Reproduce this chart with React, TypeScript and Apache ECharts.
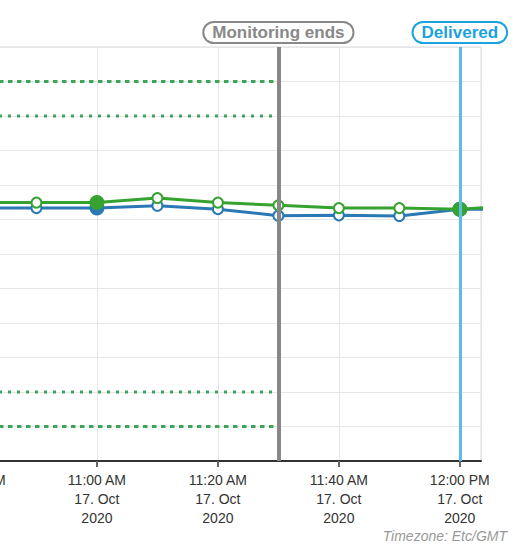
import React, { useEffect, useRef } from "react";
import * as echarts from "echarts";

// ---- data ----
const sampleTimes = ["10:40", "10:50", "11:00", "11:10", "11:20", "11:30", "11:40", "11:50", "12:00", "12:10"];
const sensorGreen = [7.49, 7.49, 7.49, 7.62, 7.49, 7.41, 7.33, 7.33, 7.3, 7.4];
const sensorBlue = [7.33, 7.33, 7.33, 7.4, 7.3, 7.11, 7.12, 7.1, 7.3, 7.3];
const markerKinds = ["none", "hollow", "filled", "hollow", "hollow", "hollow", "hollow", "hollow", "filled", "none"];

const upperLimit = 11;
const upperWarning = 10;
const lowerWarning = 2;
const lowerLimit = 1;
const thresholdStart = "10:20";
const monitoringEnds = "11:30";
const delivered = "12:00";

const axisMin = "10:20";
const axisMax = "12:03:30";
const MONTHS = ["Jan", "Feb", "Mar", "Apr", "May", "Jun", "Jul", "Aug", "Sep", "Oct", "Nov", "Dec"];

const ts = (hm: string) => {
  const [h, m, s] = hm.split(":").map(Number);
  return Date.UTC(2020, 9, 17, h, m, s || 0);
};

const GREEN = "#36a22f";
const BLUE = "#2a79b5";
const THRESH = "#3ca55b";

function fmt(v: number) {
  const d = new Date(v);
  let h = d.getUTCHours();
  const m = d.getUTCMinutes();
  const ap = h >= 12 ? "PM" : "AM";
  h = h % 12;
  if (h === 0) h = 12;
  return `${h}:${String(m).padStart(2, "0")} ${ap}\n${d.getUTCDate()}. ${MONTHS[d.getUTCMonth()]}\n${d.getUTCFullYear()}`;
}

function buildSeriesData(values: number[], color: string) {
  return sampleTimes.map((t, i) => {
    const kind = markerKinds[i];
    const item: any = { value: [ts(t), values[i]] };
    if (kind === "none") item.symbol = "none";
    else if (kind === "hollow") {
      item.symbol = "emptyCircle";
      item.symbolSize = 10;
      item.itemStyle = { color, borderColor: color, borderWidth: 2.5 };
    } else {
      item.symbol = "circle";
      item.symbolSize = 15;
      item.itemStyle = { color, borderWidth: 0 };
    }
    return item;
  });
}

function thresholdSeries(value: number, dash: number[]) {
  return {
    type: "line",
    data: [
      [ts(thresholdStart), value],
      [ts(monitoringEnds), value],
    ],
    symbol: "none",
    lineStyle: { color: THRESH, width: 3, type: dash },
    z: 2,
    silent: true,
  };
}

const labelBox = (color: string, text: string) => ({
  show: true,
  position: "end",
  distance: 5,
  formatter: text,
  color,
  fontFamily: "Liberation Sans, Arial, sans-serif",
  fontWeight: "bold",
  fontSize: 17,
  lineHeight: 17,
  padding: [1, 8, 1, 8],
  borderColor: color,
  borderWidth: 2,
  borderRadius: 11,
  backgroundColor: "#ffffff",
});

export default function App() {
  const ref = useRef<HTMLDivElement>(null);
  useEffect(() => {
    if (!ref.current) return;
    const chart = echarts.init(ref.current, undefined, { renderer: "svg" });
    chart.setOption({
      animation: false,
      backgroundColor: "#ffffff",
      grid: {
        left: 55,
        right: 42,
        top: 47,
        bottom: 92,
        show: true,
        borderColor: "#d8d8d8",
        borderWidth: 1,
        backgroundColor: "transparent",
      },
      xAxis: {
        type: "value",
        min: ts(axisMin),
        max: ts(axisMax),
        interval: 20 * 60 * 1000,
        axisLine: { show: true, onZero: false, lineStyle: { color: "#333333", width: 2 } },
        axisTick: { show: true, length: 6, lineStyle: { color: "#666666", width: 2 } },
        splitLine: { show: true, lineStyle: { color: "#e6e6e6", width: 1 } },
        axisLabel: {
          formatter: (v: number) => fmt(v),
          color: "#333333",
          fontFamily: "Liberation Sans, Arial, sans-serif",
          fontSize: 14,
          lineHeight: 19,
          margin: 9,
          showMaxLabel: false,
        },
      },
      yAxis: {
        type: "value",
        min: 0,
        max: 12,
        interval: 1,
        axisLine: { show: false },
        axisTick: { show: false },
        axisLabel: { show: false },
        splitLine: { show: true, lineStyle: { color: "#e6e6e6", width: 1 } },
      },
      series: [
        thresholdSeries(upperLimit, [4.5, 4.5]),
        thresholdSeries(upperWarning, [3, 6]),
        thresholdSeries(lowerWarning, [3, 6]),
        thresholdSeries(lowerLimit, [4.5, 4.5]),
        {
          type: "line",
          data: [],
          z: 1,
          markLine: {
            silent: true,
            symbol: "none",
            animation: false,
            lineStyle: { color: "#5bbde7", width: 3, type: "solid" },
            label: labelBox("#1aa3dd", "Delivered"),
            data: [{ xAxis: ts(delivered) }],
          },
        },
        {
          type: "line",
          data: buildSeriesData(sensorBlue, BLUE),
          lineStyle: { color: BLUE, width: 3 },
          itemStyle: { color: BLUE },
          showAllSymbol: true,
          z: 3,
        },
        {
          type: "line",
          data: buildSeriesData(sensorGreen, GREEN),
          lineStyle: { color: GREEN, width: 3 },
          itemStyle: { color: GREEN },
          showAllSymbol: true,
          z: 4,
        },
        {
          type: "line",
          data: [],
          z: 10,
          markLine: {
            silent: true,
            symbol: "none",
            animation: false,
            lineStyle: { color: "#888888", width: 4, type: "solid" },
            label: labelBox("#888888", "Monitoring ends"),
            data: [{ xAxis: ts(monitoringEnds) }],
          },
        },
      ],
      graphic: [
        {
          type: "text",
          right: 16,
          top: 529,
          style: {
            text: "Timezone: Etc/GMT",
            fill: "#999999",
            fontFamily: "Liberation Sans, Arial, sans-serif",
            fontStyle: "italic",
            fontSize: 14,
          },
        },
      ],
    });
    return () => chart.dispose();
  }, []);
  return (
    <div
      ref={ref}
      style={{ position: "absolute", left: -200, top: 0, width: 723, height: 553 }}
    />
  );
}
